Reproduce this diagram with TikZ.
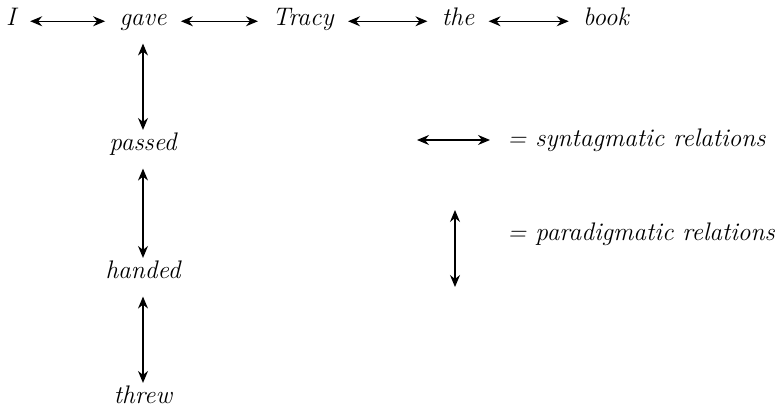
\documentclass[tikz,border=0pt]{standalone}
\usetikzlibrary{arrows.meta}
\begin{document}
\begin{tikzpicture}[x=0.5pt,y=-0.5pt,
  word/.style={font=\fontsize{12.7}{15}\selectfont\itshape, inner sep=0pt, text height=1.7ex, text depth=0.6ex, anchor=base},
  rel/.style={{Stealth[length=6pt,width=5pt,inset=2pt]}-{Stealth[length=6pt,width=5pt,inset=2pt]}, line width=0.6pt},
  srel/.style={rel, shorten <=7pt, shorten >=7pt},
  prel/.style={rel, shorten <=6pt, shorten >=3pt}]
\useasboundingbox (0,0) rectangle (783,411);
\node [word] (I) at (11,26) {I};
\node [word] (gave) at (143,26) {gave};
\node [word] (tracy) at (303,26) {Tracy};
\node [word] (the) at (458,26) {the};
\node [word] (book) at (606,26) {book};
\node [word] (passed) at (143,151) {passed};
\node [word] (handed) at (143,279) {handed};
\node [word] (threw) at (143,404) {threw};
\draw [srel] (I) -- (gave);
\draw [srel] (gave) -- (tracy);
\draw [srel] (tracy) -- (the);
\draw [srel] (the) -- (book);
\draw [prel] (gave) -- (passed);
\draw [prel] (passed) -- (handed);
\draw [prel] (handed) -- (threw);
% legend
\coordinate (sa) at (417,140);
\coordinate (sb) at (490,140);
\coordinate (pa) at (455,210);
\coordinate (pb) at (455,287);
\draw [rel] (sa) -- (sb);
\draw [rel] (pa) -- (pb);
\node [word, anchor=base west] (syn) at (507,147) {= syntagmatic relations};
\node [word, anchor=base west] (par) at (507,241) {= paradigmatic relations};
\end{tikzpicture}
\end{document}
